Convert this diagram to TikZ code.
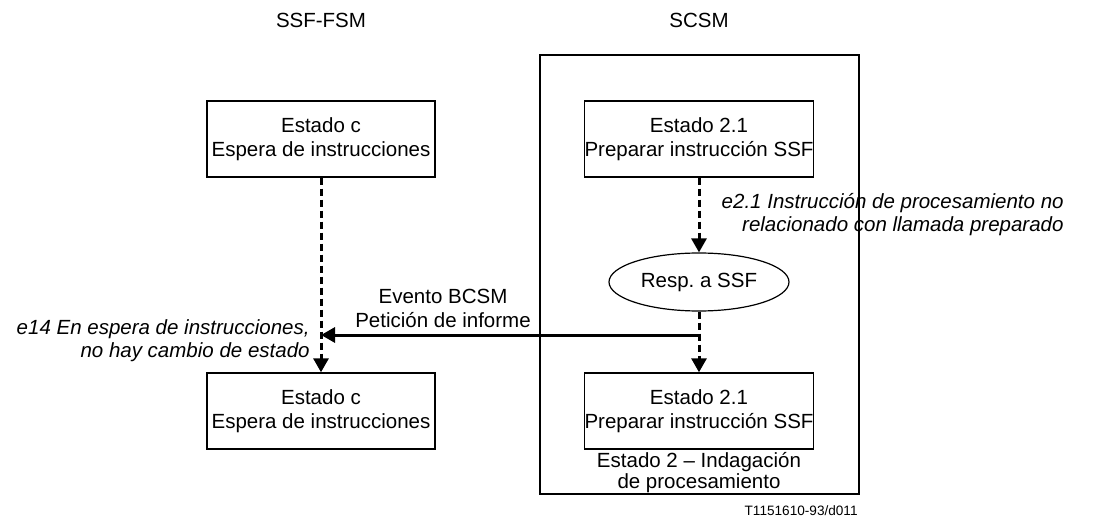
\documentclass[tikz,border=0pt]{standalone}
\usepackage{fontspec}
\setmainfont{Liberation Sans}
\usetikzlibrary{arrows.meta,shapes.geometric}

\begin{document}
\begin{tikzpicture}[x=0.5pt, y=-0.5pt,
    every node/.style = {font=\fontsize{10.25}{12}\selectfont, align=center},
    state/.style = {shape=rectangle, draw, line width=0.7pt,
      minimum width=114pt, minimum height=38pt, inner sep=0pt},
    resp/.style = {shape=ellipse, draw, line width=0.6pt,
      minimum width=90pt, minimum height=29pt, inner sep=0pt},
    trans/.style = {line width=1.5pt, dash pattern=on 3.5pt off 2pt,
      -{Triangle[length=7pt,width=7.5pt]}},
    report/.style = {line width=1.5pt, -{Triangle[length=7pt,width=7.5pt]}},
    evlabel/.style = {font=\fontsize{10.25}{11.5}\selectfont\itshape}]
    \useasboundingbox (0,0) rectangle (1094,524);
    % column titles
    \node (tfsm) at (321,20) {SSF-FSM};
    \node (tscsm) at (699,20) {SCSM};
    % SCSM frame
    \node[draw, line width=0.7pt, minimum width=159.5pt, minimum height=219.5pt,
      inner sep=0pt] (scsm) at (699.5,274.5) {};
    % states
    \node[state] (estc1) at (321,139) {Estado c\\Espera de instrucciones};
    \node[state] (estc2) at (321,411) {Estado c\\Espera de instrucciones};
    \node[state] (est21a) at (699,139) {Estado 2.1\\Preparar instrucción SSF};
    \node[state] (est21b) at (699,411) {Estado 2.1\\Preparar instrucción SSF};
    \node[resp] (resp) at (699,282) {Resp.\ a SSF};
    % transitions
    \draw[trans] (estc1.south) -- (estc2.north);
    \draw[trans] (est21a.south) -- (resp.north);
    \draw[trans] (resp.south) -- (est21b.north);
    \coordinate (tap) at (699,335);
    \coordinate (hit) at (321,335);
    \draw[report] (tap) -- (hit);
    % labels
    \node[evlabel, anchor=east, align=right, inner sep=0pt] (l21) at (1064,215)
      {e2.1 Instrucción de procesamiento no\\relacionado con llamada preparado};
    \node (lrep) at (443,308) {Evento BCSM\\Petición de informe};
    \node[evlabel, anchor=east, align=right, inner sep=0pt] (l14) at (310,341)
      {e14 En espera de instrucciones,\\no hay cambio de estado};
    \node[font=\fontsize{10.25}{10.5}\selectfont] (lest2) at (699,473)
      {Estado 2 – Indagación\\de procesamiento};
    \node[anchor=east, inner sep=0pt, font=\fontsize{6.8}{8}\selectfont] (ref) at (858,511) {T1151610-93/d011};
\end{tikzpicture}
\end{document}
